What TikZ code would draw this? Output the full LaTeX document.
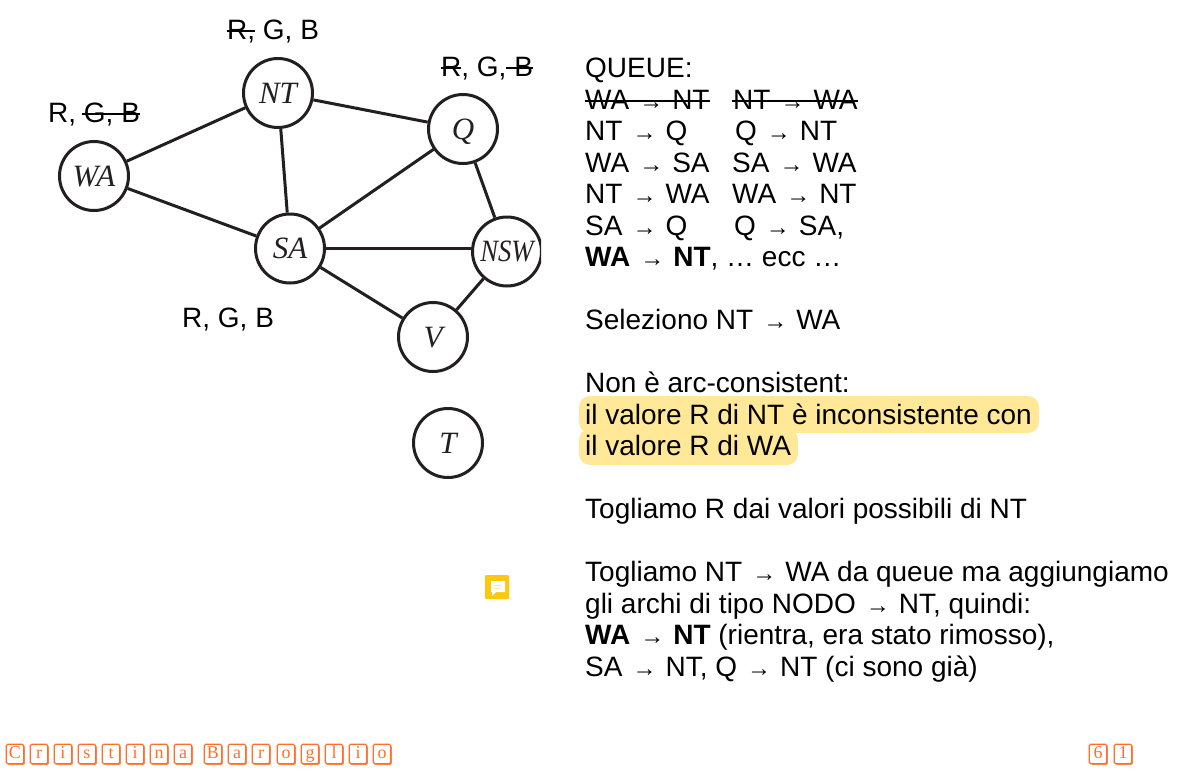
\documentclass[tikz,border=0pt]{standalone}
\usepackage{fontspec}
\setmainfont{Liberation Sans}
\newfontfamily\graphfont{Liberation Serif}
\usetikzlibrary{shadows}
\definecolor{edgecol}{HTML}{231F20}
\definecolor{markcol}{HTML}{FFE897}
\definecolor{boxcol}{HTML}{FF6F2B}
\definecolor{notecol}{HTML}{FFC80F}
\definecolor{notelinecol}{HTML}{FFE79A}
\tikzset{
  txt/.style={anchor=base west, inner sep=0pt, font=\fontsize{28}{31}\selectfont},
  state/.style={circle, draw=edgecol, line width=3pt, fill=white, minimum size=69pt, inner sep=0pt,
    text=edgecol, text height=20.5pt, text depth=0pt, font=\graphfont\itshape\fontsize{31}{32}\selectfont},
  edge/.style={draw=edgecol, line width=3pt},
  strike/.style={draw=black, line width=2.2pt},
  letterbox/.style={draw=boxcol, fill=white, rounded corners=1.5pt, line width=1.1pt, text=boxcol,
    minimum width=17.5pt, minimum height=19.5pt, inner sep=0pt, text height=11.5pt, text depth=3pt,
    font=\graphfont\fontsize{18}{18}\selectfont,
    drop shadow={shadow xshift=1.2pt, shadow yshift=-1.2pt, fill=boxcol, opacity=.8}}
}
\newcommand{\arr}{\hspace{10pt}{\fontsize{24}{24}\selectfont →}\hspace{9pt}}
\begin{document}
\begin{tikzpicture}[x=1pt, y=-1pt]
\useasboundingbox (0,0) rectangle (1186,779);

% Highlight
\fill[markcol, rounded corners=11pt] (579,396) rectangle (1039,433);
\fill[markcol, rounded corners=11pt] (579,429) rectangle (798,465);

% Graph, cut at the edge of its image
\begin{scope}
\clip (0,0) rectangle (541,478);
\node[state] (WA) at (94,176) {WA};
\node[state] (NT) at (278,93) {NT};
\node[state] (Q) at (463,129) {Q};
\node[state] (SA) at (290,248.5) {SA};
\node[state] (NSW) at (507,251.5) {\scalebox{.86}[1]{NSW}};
\node[state] (V) at (433,337) {V};
\node[state] (T) at (448,443) {T};
\foreach \a/\b in {WA/NT,WA/SA,NT/Q,NT/SA,SA/Q,SA/V,Q/NSW,V/NSW}
  \draw[edge] (\a) -- (\b);
\draw[edge] (SA) -- (SA -| NSW.west);
\end{scope}

% Domains
\node[txt] (dNT) at (227,39) {R, G, B};
\node[txt] (dQ) at (441,76) {R, G, B};
\node[txt] (dWA) at (48,122) {R, G, B};
\node[txt] (dSA) at (182,327) {R, G, B};

% Queue, first column
\node[txt] (q0) at (585,77.5) {QUEUE:};
\node[txt] (q1) at (585,109) {WA\arr NT};
\node[txt] (q2) at (585,140) {NT\arr Q};
\node[txt] (q3) at (585,172) {WA\arr SA};
\node[txt] (q4) at (585,203) {NT\arr WA};
\node[txt] (q5) at (585,235) {SA\arr Q};
\node[txt] (q6) at (585,266) {\textbf{WA}\arr\textbf{NT}, … ecc …};

% Queue, second column
\node[txt] (r1) at (733,109) {NT\arr WA};
\node[txt] (r2) at (735,140) {Q\arr NT};
\node[txt] (r3) at (732,172) {SA\arr WA};
\node[txt] (r4) at (732,203) {WA\arr NT};
\node[txt] (r5) at (734,235) {Q\arr SA,};

% Strikes
\foreach \xa/\xb/\ya in {227/255/31,441/461/68,506/533/68,82/140/114,585/710/101,732/858/101}
  \draw[strike] (\xa,\ya) -- (\xb,\ya);

% Explanation
\node[txt] (t1) at (585,329) {Seleziono NT\arr WA};
\node[txt] (t2) at (585,392) {Non è arc-consistent:};
\node[txt] (t3) at (585,424) {il valore R di NT è inconsistente con};
\node[txt] (t4) at (585,455) {il valore R di WA};
\node[txt] (t5) at (585,518) {Togliamo R dai valori possibili di NT};
\node[txt] (t6) at (585,581) {Togliamo NT\arr WA da queue ma aggiungiamo};
\node[txt] (t7) at (585,613) {gli archi di tipo NODO\arr NT, quindi:};
\node[txt] (t8) at (585,644) {\textbf{WA}\arr\textbf{NT} (rientra, era stato rimosso),};
\node[txt] (t9) at (585,676) {SA\arr NT, Q\arr NT (ci sono già)};

% Comment icon
\fill[notecol, rounded corners=1pt] (485,575) rectangle (509,599);
\fill[white] (491,581) -- (505,581) -- (505,592) -- (496,592) -- (492,596) -- (492,592) -- (491,592) -- cycle;
\draw[notelinecol, line width=1pt] (494,585) -- (502,585) (494,588) -- (500,588);

% Footer
\foreach \xpos/\ch in {6/C,30/r,54/i,78/s,102/t,126/i,150/n,174/a,204/B,228/a,252/r,277/o,301/g,325/l,349/i,373/o,1089/6,1114/1}
  \node[letterbox] (ch\xpos) at (\xpos+9,754) {\ch};

\end{tikzpicture}
\end{document}
